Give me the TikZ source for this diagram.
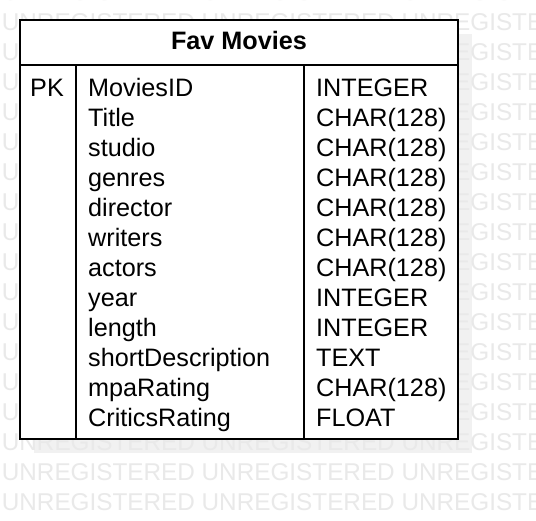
\documentclass[tikz,border=0pt]{standalone}
\usepackage{fontspec}
\setmainfont{Liberation Sans}
\begin{document}
\begin{tikzpicture}[x=1pt,y=-1pt,
  txt/.style={anchor=base west,inner sep=0pt,font=\fontsize{25.2}{30}\selectfont},
  wm/.style={anchor=base west,inner sep=0pt,text=wmgray,font=\fontsize{24.3}{30}\selectfont},
  frame/.style={draw=black,line width=2pt},
  divider/.style={draw=black,line width=2pt}]
\definecolor{wmgray}{HTML}{E9E9E9}
\definecolor{shadowgray}{HTML}{F1F1F1}
\useasboundingbox (0,0) rectangle (536,520);
\clip (0,0) rectangle (536,520);
\fill[white] (0,0) rectangle (536,520);
% shadow
\fill[shadowgray] (33.5,33.5) rectangle (471.5,452.5);
% watermark
\foreach \k in {0,...,17}{
  \node[wm] (wm\k) at (1.7,30*\k) {UNREGISTERED UNREGISTERED UNREGISTERED};
}
% table
\coordinate (tl) at (20,20);
\coordinate (br) at (458,439);
\fill[white] (tl) rectangle (br);
\draw[frame] (tl) rectangle (br);
\coordinate (hl) at (20,65);
\coordinate (hr) at (458,65);
\draw[divider] (hl) -- (hr);
\coordinate (d1t) at (75.5,65);
\coordinate (d1b) at (75.5,439);
\coordinate (d2t) at (304,65);
\coordinate (d2b) at (304,439);
\draw[divider] (d1t) -- (d1b);
\draw[divider] (d2t) -- (d2b);
\node[anchor=base,inner sep=0pt,font=\fontsize{25.2}{30}\selectfont\bfseries] (title) at (239,49.5) {Fav Movies};
\node[txt] (pk) at (30,96) {PK};
\foreach \n/\t [count=\i from 0] in {MoviesID/INTEGER,Title/CHAR(128),studio/CHAR(128),genres/CHAR(128),director/CHAR(128),writers/CHAR(128),actors/CHAR(128),year/INTEGER,length/INTEGER,shortDescription/TEXT,mpaRating/CHAR(128),CriticsRating/FLOAT}{
  \node[txt] (f\i) at (88,96+30*\i) {\n};
  \node[txt] (t\i) at (316,96+30*\i) {\t};
}
\end{tikzpicture}
\end{document}
